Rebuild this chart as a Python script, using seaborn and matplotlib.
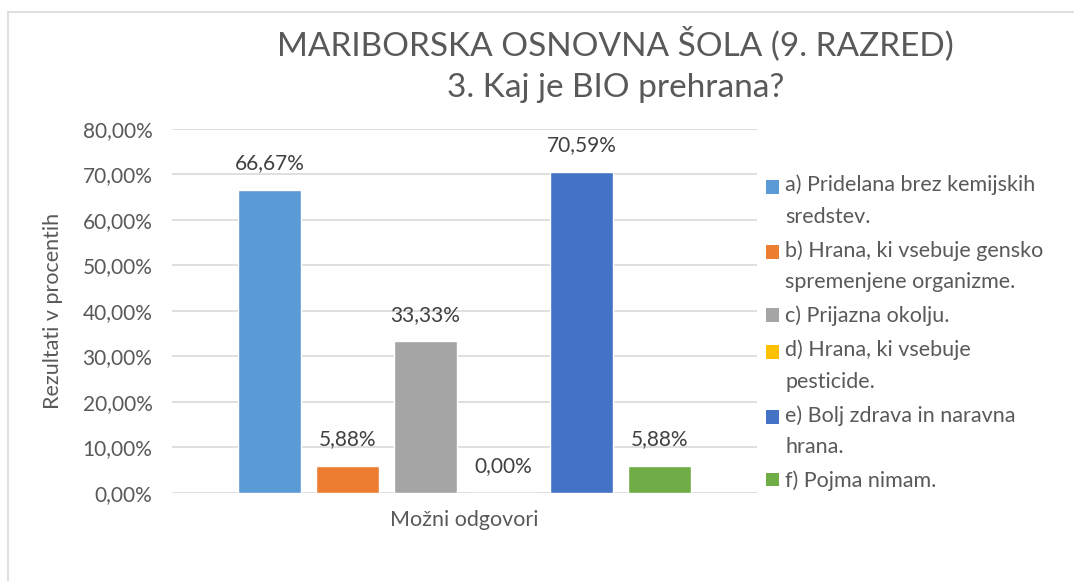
import pandas as pd
import matplotlib
matplotlib.use("Agg")
import matplotlib.pyplot as plt
from matplotlib.ticker import FuncFormatter, MultipleLocator
from matplotlib.patches import Patch, Rectangle
from matplotlib.lines import Line2D
from matplotlib.legend_handler import HandlerPatch
import seaborn as sns

# --- DATA ---
odgovori = [
    "a) Pridelana brez kemijskih\nsredstev.",
    "b) Hrana, ki vsebuje gensko\nspremenjene organizme.",
    "c) Prijazna okolju.",
    "d) Hrana, ki vsebuje\npesticide.",
    "e) Bolj zdrava in naravna\nhrana.",
    "f) Pojma nimam.",
]
procenti = [66.67, 5.88, 33.33, 0.00, 70.59, 5.88]
barve = ["#5B9BD5", "#ED7D31", "#A5A5A5", "#FFC000", "#4472C4", "#70AD47"]
kategorija = "Možni odgovori"

df = pd.DataFrame({"kat": [kategorija] * len(odgovori), "odgovor": odgovori, "procent": procenti})

sns.set_style("white")
plt.rcParams["font.family"] = ["Lato", "DejaVu Sans"]
siva = "#595959"
leg_fs = 15.5
leg_ls = 1.72

fig = plt.figure(figsize=(10.74, 5.81), dpi=100)
ax = fig.add_axes([0.160, 0.1515, 0.545, 0.6265])

sns.barplot(data=df, x="kat", y="procent", hue="odgovor", palette=barve, saturation=1,
            width=0.8, gap=0.19, ax=ax, legend=False, zorder=2)

ax.set_xlim(-0.5, 0.5)
ax.set_ylim(0, 80)
ax.yaxis.set_major_locator(MultipleLocator(10))
ax.yaxis.set_major_formatter(FuncFormatter(lambda v, p: f"{v:.2f}%".replace(".", ",")))
ax.grid(axis="y", color="#D9D9D9", linewidth=1.2, zorder=0)
for s in ax.spines.values():
    s.set_visible(False)
ax.tick_params(axis="both", length=0, labelsize=15, colors=siva, pad=14)
ax.set_xticks([])
ax.set_xlabel(kategorija, fontsize=15.5, color=siva, labelpad=12)
ax.set_ylabel("Rezultati v procentih", fontsize=15.5, color=siva, labelpad=14)

for cont in ax.containers:
    ax.bar_label(cont, labels=[f"{v:.2f}%".replace(".", ",") for v in cont.datavalues],
                 padding=12, fontsize=15, color="#404040")

fig.suptitle("MARIBORSKA OSNOVNA ŠOLA (9. RAZRED)\n3. Kaj je BIO prehrana?",
             x=0.573, y=0.955, fontsize=24, color=siva, linespacing=1.5)


# legend square sits on the first text line, like in Excel
def kvadratek(legend, orig_handle, xdescent, ydescent, width, height, fontsize):
    premik = getattr(orig_handle, "premik", 0)
    return Rectangle((-xdescent, -ydescent + premik), width, height)


handles = []
for c, o in zip(barve, odgovori):
    h = Patch(facecolor=c, edgecolor="none")
    h.premik = 0.5 * leg_ls * leg_fs * 0.78 * o.count("\n")
    handles.append(h)

leg = fig.legend(handles, odgovori, loc="upper left", bbox_to_anchor=(0.705, 0.714),
                 frameon=False, fontsize=leg_fs, labelspacing=0.62, handlelength=0.6,
                 handleheight=0.6, handletextpad=0.3, borderaxespad=0,
                 handler_map={Patch: HandlerPatch(patch_func=kvadratek)})
for t in leg.get_texts():
    t.set_color(siva)
    t.set_linespacing(leg_ls)

# chart area border
fig.add_artist(Line2D([0.0075, 0.0075], [0.0, 0.979], color="#D9D9D9", linewidth=1.2))
fig.add_artist(Line2D([0.0075, 1.0], [0.979, 0.979], color="#D9D9D9", linewidth=1.2))

fig.savefig("out.png", dpi=100)
